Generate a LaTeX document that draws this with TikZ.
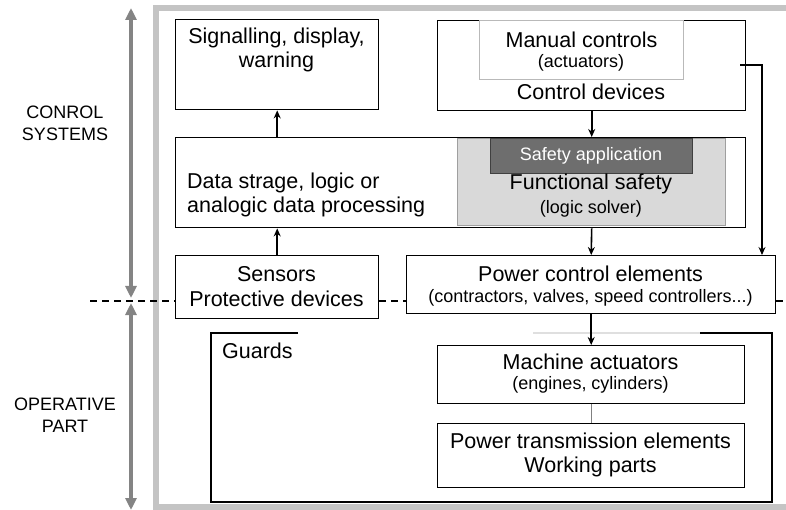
\documentclass[tikz,border=0pt]{standalone}
\usepackage{fontspec}
\setmainfont{Liberation Sans}
\usetikzlibrary{arrows.meta}
\definecolor{frame}{HTML}{C4C4C4}
\definecolor{bigarrow}{HTML}{848484}
\definecolor{fsfill}{HTML}{D9D9D9}
\definecolor{safill}{HTML}{6E6E6E}
\definecolor{txt}{HTML}{000000}
\tikzset{
  box/.style={draw=black, line width=1.4pt, fill=white, inner sep=0pt},
  big/.style={font=\fontsize{21.5}{24.5}\selectfont, text=txt, align=center, inner sep=0pt},
  small/.style={font=\fontsize{18}{22}\selectfont, text=txt, align=center, inner sep=0pt},
  flow/.style={draw=black, line width=1.6pt, -{Stealth[length=8pt,width=7pt]}},
  grayarrow/.style={draw=bigarrow, line width=3.2pt, {Triangle[length=12pt,width=11pt]}-{Triangle[length=12pt,width=11pt]}},
  divider/.style={draw=black, line width=1.4pt, dash pattern=on 7pt off 5pt},
}
\begin{document}
\begin{tikzpicture}[x=1pt,y=-1pt]
\useasboundingbox (0,0) rectangle (786,510);
% outer gray frame
\draw[frame, line width=6pt] (786,8.5) -- (155.5,8.5) -- (155.5,506.5) -- (786,506.5);
% gray side arrows
\draw[grayarrow] (131,8) -- (131,298);
\draw[grayarrow] (131,303) -- (131,510);
% side labels
\node[small, text=black] (lab1) at (65,123) {CONROL\\SYSTEMS};
\node[small, text=black] (lab2) at (65,415) {OPERATIVE\\PART};
% guards
\draw[black, line width=1.4pt] (298,333) -- (211,333) -- (211,502) -- (772,502) -- (772,333) -- (700,333);
\draw[gray!25, line width=1.2pt] (533,333) -- (700,333);
\node[big, anchor=west] (guards) at (222,351) {Guards};
% boxes
\node[box, anchor=north west, minimum width=203pt, minimum height=90pt] (sig) at (175,19) {};
\node[big] (sigt) at (276.5,50) {Signalling, display,\\warning};
\node[box, anchor=north west, minimum width=308pt, minimum height=90pt] (ctrl) at (437,20) {};
\node[draw=gray!55, line width=0.8pt, fill=white, anchor=north west, minimum width=204pt, minimum height=59pt, inner sep=0pt] (man) at (479,20) {};
\node[big] (mant) at (581.5,40) {Manual controls};
\node[small] (actt) at (581,63) {(actuators)};
\node[big] (ctrlt) at (591,92) {Control devices};
\node[box, anchor=north west, minimum width=570pt, minimum height=90pt] (data) at (175,137) {};
\node[big, align=left, anchor=west] (datat) at (187,195) {Data strage, logic or\\analogic data processing};
\node[draw=gray!75, line width=1pt, fill=fsfill, anchor=north west, minimum width=268pt, minimum height=87pt, inner sep=0pt] (fs) at (457,138) {};
\node[draw=black!75, line width=1pt, fill=safill, anchor=north west, minimum width=202pt, minimum height=35pt, inner sep=0pt] (sa) at (490,138) {};
\node[small, text=white] (sat) at (591,156) {Safety application};
\node[big] (fst) at (591,184) {Functional safety};
\node[small] (lst) at (591,209) {(logic solver)};
\node[box, anchor=north west, minimum width=203pt, minimum height=63pt] (sens) at (175,255) {};
\node[big] (senst) at (276.5,286.5) {Sensors\\Protective devices};
\node[box, anchor=north west, minimum width=369pt, minimum height=58pt] (pce) at (406,255) {};
\node[big] (pcet) at (590.5,274) {Power control elements};
\node[small] (pces) at (590.5,298) {(contractors, valves, speed controllers...)};
\node[box, anchor=north west, minimum width=307pt, minimum height=58pt] (ma) at (437,345) {};
\node[big] (mat) at (590.5,362) {Machine actuators};
\node[small] (mas) at (590.5,385) {(engines, cylinders)};
\node[box, anchor=north west, minimum width=307pt, minimum height=64pt] (pt) at (437,423) {};
\node[big] (ptt) at (590.5,455) {Power transmission elements\\Working parts};
% dashed divider
\draw[divider] (90,301) -- (sens.west |- 0,301);
\draw[divider] (sens.east |- 0,301) -- (pce.west |- 0,301);
\draw[divider] (pce.east |- 0,301) -- (786,301);
% connectors
\draw[flow] (sens.north) -- (sens.north |- data.south);
\draw[flow] (sens.north |- data.north) -- (sig.south);
\draw[flow] (ctrl.south) -- (ctrl.south |- data.north);
\draw[flow] (ctrl.south |- data.south) -- (pce.north);
\coordinate (cr) at (740,65);
\draw[flow] (cr) -- (762,65) -- (762,0 |- pce.north);
\draw[flow] (pce.south) -- (ma.north);
\draw[draw=gray, line width=1.4pt] (ma.south) -- (pt.north);
\end{tikzpicture}
\end{document}
